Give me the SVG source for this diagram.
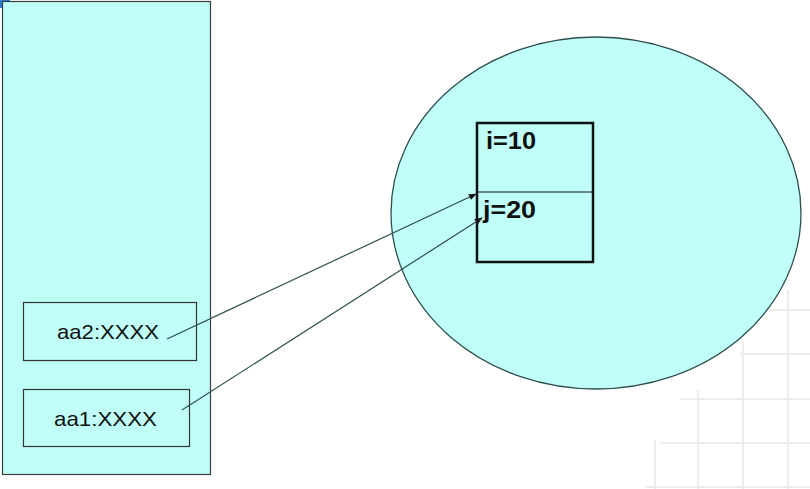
<svg xmlns="http://www.w3.org/2000/svg" width="810" height="489" viewBox="0 0 810 489">
<style>
.fill{fill:#bffff8}
.lbl{font-family:"Liberation Sans",Arial,sans-serif;font-size:21px;fill:#111}
.var{font-family:"Liberation Sans",Arial,sans-serif;font-size:23px;font-weight:bold;fill:#111}
.grid{stroke:#ececec;stroke-width:2;fill:none}
.conn{stroke:#2f4f4f;stroke-width:1.2;fill:none}
</style>
<defs>
<marker id="arr" viewBox="0 0 10 10" refX="9" refY="5" markerWidth="8" markerHeight="8" markerUnits="userSpaceOnUse" orient="auto">
<path d="M0,1 L10,5 L0,9 z" fill="#1a1a1a"/>
</marker>
</defs>
<rect width="810" height="489" fill="#ffffff"/>
<g id="grid">
<path class="grid" d="M770,310 H810 M740,354 H810 M680,399 H810 M660,443 H810 M645,487 H810"/>
<path class="grid" d="M655,440 V489 M698,390 V489 M743,340 V489 M788,290 V489"/>
</g>
<rect x="0" y="0" width="10" height="8" fill="#2a7fd4"/>
<g id="stack">
<rect class="fill" x="2.5" y="1.5" width="208" height="473" stroke="#3c3c3c" stroke-width="1.2"/>
</g>
<g id="aa2">
<rect class="fill" x="23.5" y="302.5" width="173" height="58" stroke="#333" stroke-width="1.2"/>
<text class="lbl" x="57" y="339" textLength="102" lengthAdjust="spacingAndGlyphs">aa2:XXXX</text>
</g>
<g id="aa1">
<rect class="fill" x="23.5" y="389.5" width="166" height="57" stroke="#333" stroke-width="1.2"/>
<text class="lbl" x="54" y="426" textLength="103" lengthAdjust="spacingAndGlyphs">aa1:XXXX</text>
</g>
<g id="heap">
<ellipse class="fill" cx="596" cy="213" rx="205" ry="176" stroke="#2f4f4f" stroke-width="1.3"/>
</g>
<g id="object">
<rect class="fill" x="477" y="123" width="116" height="139" stroke="#111" stroke-width="2.5"/>
<line x1="477" y1="192" x2="593" y2="192" stroke="#111" stroke-width="1"/>
<text class="var" x="486" y="149" textLength="50" lengthAdjust="spacingAndGlyphs">i=10</text>
<text class="var" x="483" y="218" textLength="53" lengthAdjust="spacingAndGlyphs">j=20</text>
</g>
<g id="connectors">
<line class="conn" x1="167" y1="339" x2="476" y2="194" marker-end="url(#arr)"/>
<line class="conn" x1="182" y1="410" x2="482" y2="218" marker-end="url(#arr)"/>
</g>
</svg>
